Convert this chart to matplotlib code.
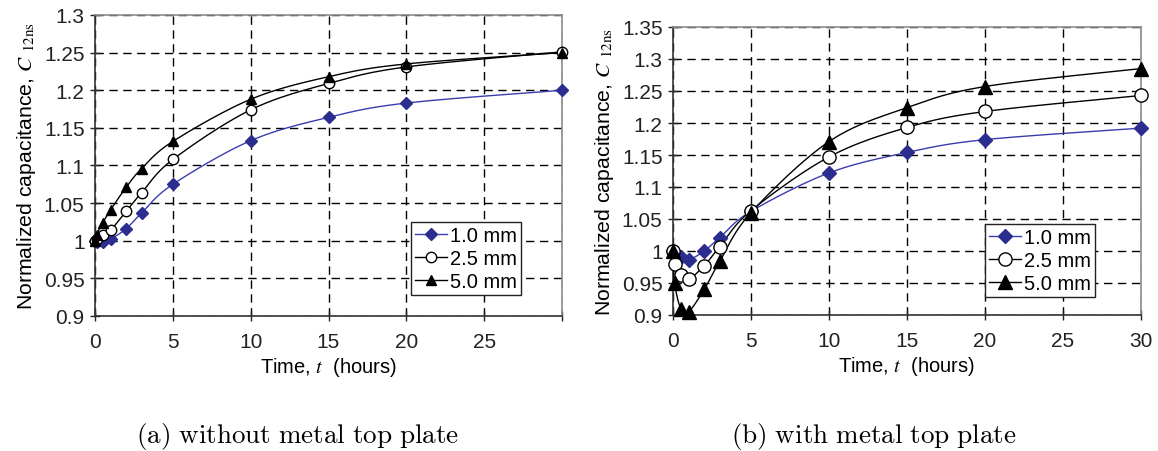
import numpy as np
import matplotlib
matplotlib.use("Agg")
import matplotlib.pyplot as plt

# Sampling times (hours)
times = [0, 0.1, 0.5, 1, 2, 3, 5, 10, 15, 20, 30]

# (a) without metal top plate
a_10mm = [1.000, 0.999, 0.998, 1.002, 1.016, 1.037, 1.075, 1.133, 1.164, 1.183, 1.200]
a_25mm = [1.000, 1.002, 1.007, 1.014, 1.039, 1.064, 1.108, 1.174, 1.209, 1.231, 1.251]
a_50mm = [1.000, 1.008, 1.024, 1.041, 1.071, 1.096, 1.132, 1.188, 1.218, 1.235, 1.250]

# (b) with metal top plate
b_10mm = [1.000, 0.997, 0.990, 0.986, 1.000, 1.021, 1.062, 1.122, 1.154, 1.174, 1.192]
b_25mm = [1.000, 0.979, 0.962, 0.956, 0.977, 1.007, 1.063, 1.147, 1.193, 1.218, 1.243]
b_50mm = [1.000, 0.950, 0.910, 0.905, 0.940, 0.984, 1.060, 1.171, 1.224, 1.257, 1.285]

series_labels = ["1.0 mm", "2.5 mm", "5.0 mm"]
a_xticks = [0, 5, 10, 15, 20, 25, 30]
a_xticklabels = ["0", "5", "10", "15", "20", "25", ""]
b_xticks = [0, 5, 10, 15, 20, 25, 30]
a_yticks = [0.9, 0.95, 1.0, 1.05, 1.1, 1.15, 1.2, 1.25, 1.3]
a_yticklabels = ["0.9", "0.95", "1", "1.05", "1.1", "1.15", "1.2", "1.25", "1.3"]
b_yticks = [0.9, 0.95, 1.0, 1.05, 1.1, 1.15, 1.2, 1.25, 1.3, 1.35]
b_yticklabels = ["0.9", "0.95", "1", "1.05", "1.1", "1.15", "1.2", "1.25", "1.3", "1.35"]

W, H = 1158, 452
fig = plt.figure(figsize=(W / 100, H / 100), dpi=100)
plt.rcParams["font.family"] = ["Liberation Sans", "DejaVu Sans"]

BLUE = "#2B2E8F"
LBLUE = "#3A3DB0"
TICK_FS = 15
XLABEL_FS = 14.5
YLABEL_FS = 15.3
LEG_FS = 14.5


def px_axes(left, top, right, bottom):
    return fig.add_axes([left / W, 1 - bottom / H, (right - left) / W, (bottom - top) / H])


def smooth_curve(ax, x, y, n=24):
    """Cardinal (Catmull-Rom) smoothing through the points, computed in screen space."""
    x0, x1 = ax.get_xlim()
    y0, y1 = ax.get_ylim()
    bb = ax.get_position()
    sw, sh = bb.width * W, bb.height * H
    P = np.column_stack([(np.asarray(x) - x0) / (x1 - x0) * sw,
                         (np.asarray(y) - y0) / (y1 - y0) * sh])
    Pp = np.vstack([P[0], P, P[-1]])
    out = []
    s = np.linspace(0, 1, n)[:, None]
    for i in range(1, len(Pp) - 2):
        p0, p1, p2, p3 = Pp[i - 1], Pp[i], Pp[i + 1], Pp[i + 2]
        b1 = p1 + (p2 - p0) / 6.0
        b2 = p2 - (p3 - p1) / 6.0
        seg = ((1 - s) ** 3) * p1 + 3 * ((1 - s) ** 2) * s * b1 + 3 * (1 - s) * s ** 2 * b2 + s ** 3 * p2
        out.append(seg)
    Q = np.vstack(out)
    return Q[:, 0] / sw * (x1 - x0) + x0, Q[:, 1] / sh * (y1 - y0) + y0


def setup(ax, ylim, yticks, yticklabels, xticks, xticklabels):
    ax.set_xlim(0, 30)
    ax.set_ylim(*ylim)
    ax.set_xticks(xticks)
    ax.set_xticklabels(xticklabels)
    ax.set_yticks(yticks)
    ax.set_yticklabels(yticklabels)
    ax.tick_params(direction="inout", length=7, width=1, labelsize=TICK_FS, colors="#222222", pad=4)
    ax.tick_params(axis="x", pad=8)
    ax.grid(True, color="black", linestyle=(0, (6, 4)), linewidth=1.0)
    for side in ("top", "right"):
        ax.spines[side].set_color("#8c8c8c")
        ax.spines[side].set_linewidth(1.2)
    for side in ("left", "bottom"):
        ax.spines[side].set_color("#333333")
        ax.spines[side].set_linewidth(1.2)
    ax.set_xlabel(r"Time, $t$  (hours)", fontsize=XLABEL_FS, labelpad=3, math_fontfamily="stix")
    ax.set_ylabel(r"Normalized capacitance, $C\ _{\mathrm{12ns}}$", fontsize=YLABEL_FS,
                  labelpad=4, math_fontfamily="stix")


def draw(ax, data, ms):
    styles = [
        dict(marker="D", color=LBLUE, mfc=BLUE, mec=BLUE, ms=ms * 0.8),
        dict(marker="o", color="black", mfc="white", mec="black", ms=ms),
        dict(marker="^", color="black", mfc="black", mec="black", ms=ms),
    ]
    handles = []
    for vals, st, lab in zip(data, styles, series_labels):
        sx, sy = smooth_curve(ax, times, vals)
        ax.plot(sx, sy, color=st["color"], lw=1.0, zorder=3, clip_on=False)
        ax.plot(times, vals, linestyle="none", marker=st["marker"], mfc=st["mfc"],
                mec=st["mec"], ms=st["ms"], mew=1.0, zorder=4, clip_on=False)
        h, = ax.plot([], [], color=st["color"], lw=1.0, marker=st["marker"], mfc=st["mfc"],
                     mec=st["mec"], ms=st["ms"], mew=1.0, label=lab)
        handles.append(h)
    return handles


def legend(ax, handles, x_left, y_bottom):
    leg = ax.legend(handles=handles, loc="lower left", bbox_to_anchor=(x_left / W, 1 - y_bottom / H),
                    bbox_transform=fig.transFigure, fontsize=LEG_FS, frameon=True, fancybox=False,
                    edgecolor="#222222", framealpha=1, borderpad=0.2, handlelength=1.6,
                    handletextpad=0.15, labelspacing=0.2, borderaxespad=0)
    leg.get_frame().set_linewidth(1.0)
    leg.set_zorder(10)
    return leg


# Panel (a)
ax1 = px_axes(95, 16, 562, 317)
setup(ax1, (0.9, 1.3), a_yticks, a_yticklabels, a_xticks, a_xticklabels)
h1 = draw(ax1, [a_10mm, a_25mm, a_50mm], 7.5)
legend(ax1, h1, 411, 296)

# Panel (b)
ax2 = px_axes(673, 28, 1141, 316)
setup(ax2, (0.9, 1.35), b_yticks, b_yticklabels, b_xticks, [str(v) for v in b_xticks])
h2 = draw(ax2, [b_10mm, b_25mm, b_50mm], 9.5)
legend(ax2, h2, 985, 298)

# Sub-captions
fig.text(298 / W, 1 - 437 / H, r"$\mathrm{(a)\ without\ metal\ top\ plate}$", ha="center",
         va="center", fontsize=19.5, math_fontfamily="cm")
fig.text(874 / W, 1 - 437 / H, r"$\mathrm{(b)\ with\ metal\ top\ plate}$", ha="center",
         va="center", fontsize=19.5, math_fontfamily="cm")

fig.savefig("out.png", dpi=100)
